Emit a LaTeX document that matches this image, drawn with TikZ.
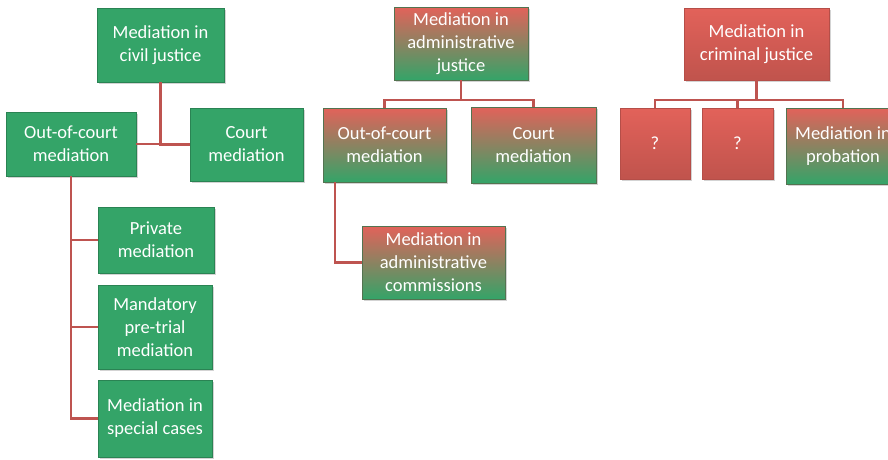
\documentclass[tikz,border=0pt]{standalone}
\usepackage{fontspec}
\setmainfont{Carlito}
\usetikzlibrary{positioning, shadows}

\definecolor{boxgreen}{RGB}{52,164,104}
\definecolor{boxred}{RGB}{226,98,90}
\definecolor{linkred}{RGB}{190,84,80}

\begin{document}
\begin{tikzpicture}[x=1pt, y=-1pt,
    box/.style={rectangle, text=white, align=center, inner sep=2pt,
        font=\fontsize{18.5}{23}\selectfont,
        drop shadow={opacity=0.35, shadow xshift=1.5pt, shadow yshift=-1.5pt}},
    green/.style={box, fill=boxgreen, draw=boxgreen!80!black},
    red/.style={box, top color=boxred, bottom color=boxred!85!black, draw=boxred!80!black},
    mixed/.style={box, top color=boxred, middle color=boxred!45!boxgreen, bottom color=boxgreen, draw=boxgreen!70!boxred!80!black},
    link/.style={draw=linkred, line width=2.4pt}]

    \useasboundingbox (0,0) rectangle (888,459);
    \clip (0,0) rectangle (888,459);

    % civil justice
    \node (civil) [green, minimum width=127pt, minimum height=74pt] at (160.5,45) {Mediation in\\civil justice};
    \node (cocm) [green, minimum width=130pt, minimum height=64pt] at (71,144) {Out-of-court\\mediation};
    \node (ccm) [green, minimum width=113pt, minimum height=73pt] at (246.5,144.5) {Court\\mediation};
    \node (cpriv) [green, minimum width=116pt, minimum height=66pt] at (156,240) {Private\\mediation};
    \node (cmand) [green, minimum width=114pt, minimum height=84pt] at (155,327) {Mandatory\\pre-trial\\mediation};
    \node (cspec) [green, minimum width=114pt, minimum height=77pt] at (155,418.5) {Mediation in\\special cases};

    % administrative justice
    \node (adm) [mixed, minimum width=134pt, minimum height=73pt] at (461,43.5) {Mediation in\\administrative\\justice};
    \node (aocm) [mixed, minimum width=123pt, minimum height=74pt] at (384.5,145) {Out-of-court\\mediation};
    \node (acm) [mixed, minimum width=125pt, minimum height=76pt] at (533.5,145) {Court\\mediation};
    \node (acomm) [mixed, minimum width=143pt, minimum height=73pt] at (433.5,262.5) {Mediation in\\administrative\\commissions};

    % criminal justice
    \node (crim) [red, minimum width=145pt, minimum height=72pt] at (756.5,44) {Mediation in\\criminal justice};
    \node (q1) [red, minimum width=70pt, minimum height=71pt] at (655,143.5) {?};
    \node (q2) [red, minimum width=71pt, minimum height=71pt] at (737.5,143.5) {?};
    \node (prob) [mixed, minimum width=114pt, minimum height=76pt] at (843,146) {Mediation in\\probation};

    \draw [link] (civil.south) |- (cocm.east);
    \draw [link] (civil.south) |- (ccm.west);
    \draw [link] (cocm.south) |- (cpriv.west);
    \draw [link] (cocm.south) |- (cmand.west);
    \draw [link] (cocm.south) |- (cspec.west);

    \draw [link] (adm.south) -- ++(0,20) -| (aocm.north);
    \draw [link] (adm.south) -- ++(0,20) -| (acm.north);
    \draw [link] ([xshift=12pt]aocm.south west) |- (acomm.west);

    \draw [link] (crim.south) -- ++(0,20) -| (q1.north);
    \draw [link] (crim.south) -- ++(0,20) -| (q2.north);
    \draw [link] (crim.south) -- ++(0,20) -| (prob.north);
\end{tikzpicture}
\end{document}
